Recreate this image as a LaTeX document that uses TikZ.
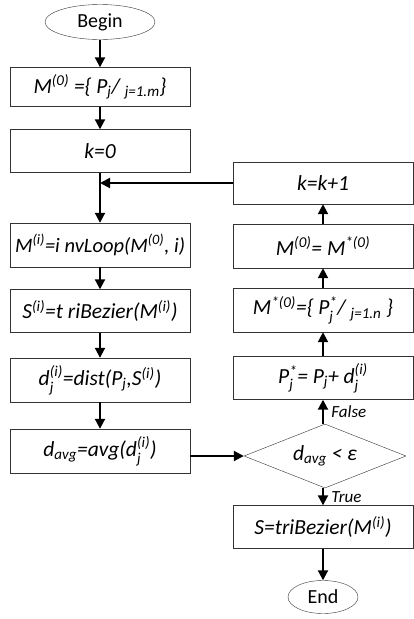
\documentclass[tikz,border=0pt]{standalone}
\usepackage{amsmath}
\usepackage{fontspec}
\setmainfont{Carlito}
\usetikzlibrary{arrows.meta, positioning, shapes.geometric}

\begin{document}
\begin{tikzpicture}[x=1pt, y=-1pt, font=\fontsize{20}{24}\selectfont,
	box/.style={draw=black!80, thin, minimum width=180pt, minimum height=43pt, inner sep=2pt, font=\fontsize{21.5}{24}\selectfont\itshape},
	term/.style={draw=black!80, thin, ellipse, inner sep=0pt},
	flow/.style={-{Triangle[length=10pt, width=10pt]}, line width=2pt},
	tag/.style={font=\fontsize{17}{20}\selectfont\itshape, right=4pt}]
	\useasboundingbox (0,0) rectangle (414,619);
	% left column
	\node[term, minimum width=110pt, minimum height=35pt] (begin) at (100,22) {Begin};
	\node[box, minimum height=39pt] (init) at (100,87) {M$^{\text{(0)}}$ =\{ P$_{\text{j}}$/ $_{\text{j=1.m}}$\}};
	\node[box] (kzero) at (100,151) {k=0};
	\node[box, inner xsep=5pt, minimum height=44pt, font=\fontsize{20.5}{24}\selectfont\itshape] (loop) at (100,245) {M$^{\text{(i)}}$=i nvLoop(M$^{\text{(0)}}$, i)};
	\node[box] (bez) at (100,311) {S$^{\text{(i)}}$=t riBezier(M$^{\text{(i)}}$)};
	\node[box, minimum height=44pt] (dist) at (100,380) {d$_{\text{j}}^{\text{(i)}}$=dist(P$_{\text{j}}$,S$^{\text{(i)}}$)};
	\node[box, minimum height=44pt] (avg) at (100,451) {d$_{\text{avg}}$=avg(d$_{\text{j}}^{\text{(i)}}$)};
	% right column
	\node[box, minimum height=42pt] (inc) at (323,183) {k=k+1};
	\node[box, minimum height=44pt] (copy) at (323,246) {M$^{\text{(0)}}$= M$^{\text{*(0)}}$};
	\node[box, minimum height=44pt] (newm) at (323,310) {M$^{\text{*(0)}}$=\{ P$^{\text{*}}_{\text{j}}$/ $_{\text{j=1.n}}$ \}};
	\node[box] (move) at (323,378) {P$^{\text{*}}_{\text{j}}$= P$_{\text{j}}$+ d$_{\text{j}}^{\text{(i)}}$};
	\node[draw=black!80, thin, diamond, aspect=2.5, minimum width=162pt, minimum height=64pt, inner sep=0pt, font=\fontsize{21.5}{24}\selectfont\itshape] (test) at (325,456) {d$_{\text{avg}}$ < ε};
	\node[box] (final) at (323,527) {S=triBezier(M$^{\text{(i)}}$)};
	\node[term, minimum width=70pt, minimum height=33pt] (finish) at (323,597) {End};

	\draw[flow] (begin) -- (init);
	\draw[flow] (init) -- (kzero);
	\draw[flow] (kzero) -- (loop);
	\draw[flow] (loop) -- (bez);
	\draw[flow] (bez) -- (dist);
	\draw[flow] (dist) -- (avg);
	\draw[flow] (avg.east |- test.west) -- (test.west);
	\draw[flow] (test.north -| move) -- node[tag]{False} (move);
	\draw[flow] (move) -- (newm);
	\draw[flow] (newm) -- (copy);
	\draw[flow] (copy) -- (inc);
	\draw[flow] (inc.west) -- (inc.west -| kzero.south);
	\draw[flow] (test.south -| final) -- node[tag]{True} (final);
	\draw[flow] (final) -- (finish);
\end{tikzpicture}
\end{document}
